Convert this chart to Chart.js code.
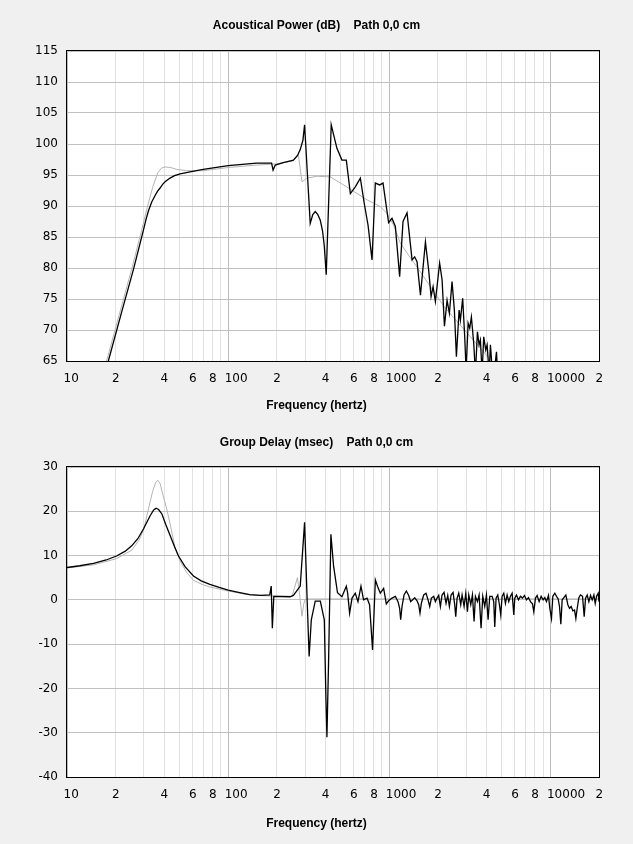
<!DOCTYPE html>
<html>
<head>
<meta charset="utf-8">
<title>Acoustical Power / Group Delay</title>
<script src="https://cdn.jsdelivr.net/npm/chart.js@4.4.1/dist/chart.umd.min.js"></script>
<style>
  body { margin: 0; background: #f0f0f0; }
  canvas { display: block; }
</style>
</head>
<body>
<canvas id="powerChart" width="633" height="422"></canvas>
<canvas id="delayChart" width="633" height="422"></canvas>
<script>
// x axis (hertz), shared by both plots
const freqTicks = [10,20,30,40,50,60,70,80,90,100,200,300,400,500,600,700,800,900,
  1000,2000,3000,4000,5000,6000,7000,8000,9000,10000,20000];
const freqLabels = ['10','2','','4','','6','','8','','100','2','','4','','6','','8','',
  '1000','2','','4','','6','','8','','10000','2'];

const powerTicks = [65,70,75,80,85,90,95,100,105,110,115];
const delayTicks = [-40,-30,-20,-10,0,10,20,30];

// acoustical power, black trace
const powerFreq = [18.05,22,25.8,29.8,30.9,32,33.5,35.2,36.5,37.8,39.2,40.6,43.6,46.5,50.3,58,70,100,150,182,
  186,190,196,220,254,270,280,291,298,323,335,347,360,373,385,395,406,436,451,473,
  508,541,573,615,661,699,738,781,819,871,914,990,1039,1090,1159,1216,1288,1384,1436,1486,
  1560,1675,1754,1816,1869,1931,2052,2125,2198,2282,2359,2450,2533,2607,2710,2761,2852,2936,2995,3083,
  3154,3230,3339,3422,3521,3606,3674,3765,3852,3964,4044,4162,4240,4364,4450,4622,4720,5000];
const powerDb = [65,73.2,79.7,86.1,87.8,89.2,90.6,91.7,92.4,92.9,93.5,93.9,94.5,94.9,95.2,95.5,95.9,96.5,96.9,96.9,
  96.9,95.8,96.6,97.0,97.4,98.2,99.1,100.6,103.1,87.2,88.6,89.1,88.6,87.7,86,83.5,78.9,103.1,101.5,99.3,
  97.4,97.4,92.0,93.1,94.5,90.4,86.9,81.3,93.7,93.4,93.7,87.3,88.0,86.7,78.6,87.5,88.9,81.3,81.8,81.0,
  75.6,84.2,79.7,75.4,77.0,74.6,80.8,78.1,70.6,74.8,72.7,77.8,73.2,65.7,73.2,71.6,75.1,68.9,63.5,71.1,
  70.3,72.1,67.9,63,69.7,67.6,68.4,63,68.9,66.8,67.6,63,67.6,63,62.5,66.5,62,58];

// acoustical power, grey trace
const powerRefFreq = [17.6,25.3,29,31.5,34,36.5,38.5,40.6,44,48,55,70,100,150,200,254,273,287,308,356,
  430,520,727,879,967,1064,1170,1633,2185,3040,4240,5000];
const powerRefDb = [65,80,86,89.8,93.0,95.3,96.1,96.3,96.2,95.9,95.7,95.7,96.2,96.6,96.8,97.3,98.2,93.9,94.5,94.8,
  94.7,93.4,91.0,89.9,88.8,86.9,84.0,78.6,73.8,69.5,65.2,63];

// group delay, black trace
const delayFreq = [10,12,14.6,17.5,20.3,23,25.2,27.5,29.8,32.8,34.5,35.7,37,38.8,41,43.7,46.5,49.2,54,60.9,
  68,77,88,100,116,136,160,181,185,188,192,242,254,280,298,308,318,328,347,373,
  395,404,410,420,434,451,477,508,541,551,567,587,615,639,667,692,727,754,787,819,
  846,879,922,958,990,1039,1090,1132,1159,1176,1199,1234,1275,1319,1357,1396,1437,1486,1521,1550,
  1580,1634,1690,1739,1781,1824,1886,1931,1978,2025,2074,2124,2186,2249,2304,2359,2416,2486,2546,2583,
  2633,2696,2774,2828,2910,2981,3052,3111,3201,3278,3357,3422,3521,3606,3710,3800,3910,4004,4101,4200,
  4343,4446,4510,4597,4708,4822,4914,5009,5130,5254,5382,5511,5644,5781,5920,6005,6150,6328,6512,6701,
  6895,7095,7301,7513,7731,7879,8070,8264,8504,8750,9005,9222,9444,9717,9904,10144,10339,10639,10897,11160,
  11375,11594,11817,12104,12455,12816,13125,13442,13766,14098,14370,14648,14997,15359,15804,16186,16498,16896,17305,17722,
  18150,18588,18947,19314,19780,20000];
const delayMs = [7.3,7.7,8.25,9.0,9.9,11.0,12.2,13.8,16.0,19.0,20.3,20.7,20.4,19.4,17.0,14.5,12.0,9.9,7.5,5.4,
  4.3,3.5,2.8,2.2,1.7,1.2,1.0,1.1,3.1,-6.4,0.8,0.7,1.0,3.1,17.5,1.6,-12.8,-4.5,-0.3,-0.3,
  -4.5,-21.9,-31.0,-13.6,14.8,7.6,1.6,0.7,3.1,1.6,-3.0,0.4,1.5,-0.4,3.1,0.0,0.4,-1.1,-11.3,4.5,
  3.0,1.5,2.6,-0.9,-0.2,0.4,0.8,-0.4,-1.9,-4.5,-1.5,1.1,2.0,1.0,-0.4,0,0.5,-0.2,-1.1,-3.0,
  -0.8,1.1,1.5,0,-1.5,0.4,0.8,-0.4,0.4,1.0,-1.5,1.1,1.7,-0.8,1.0,-1.5,1.1,1.7,-1.1,-3.8,
  0.4,1.5,-1.1,1.1,-1.5,1.5,-2.7,1.1,-1.1,1.1,-4.9,0.8,-0.4,1.1,-6.4,0.8,-1.5,1.1,-4.5,0.8,
  0.8,-0.4,-6.1,0.4,1.1,-1.1,-3.4,0.8,1.5,-0.8,1.1,-0.4,0.8,1.5,-3.4,0.4,1.1,0,0.8,0.4,
  1.0,0,0.5,-0.4,-0.9,-2.7,0.4,1.0,-0.4,0.8,0,0.5,-0.4,1.0,-1.9,-4.2,0.8,1.5,0.8,0.2,
  -1.5,-5.5,0,0.5,1.1,-1.1,-1.9,-1.5,-2.5,-2.3,-4.2,-1.9,0.5,1.1,0.8,-3.8,0.4,1.1,-0.4,1.0,
  0,1.1,-0.8,0.8,1.5,-0.4];

// group delay, grey trace
const delayRefFreq = [10,14.6,20.3,25.2,28,30,32,34,35.5,36.6,37.8,39.5,41.6,44,47,50.3,55,60.9,70,77,
  100,136,174,249,269,276,287,294,301,20000];
const delayRefMs = [7.2,7.9,9.3,11.2,13.5,16,20.5,24.5,26.5,27.0,26.3,23.5,20.5,16.5,11.5,8.8,6.3,4.4,3.4,2.9,
  2.0,1.1,0.9,0.8,5.0,2.0,-3.7,-1.0,0.2,0.2];

Chart.defaults.font.family = 'DejaVu Sans';
Chart.defaults.font.size = 12;
Chart.defaults.color = '#000';

function points(xs, ys) {
  return xs.map((x, i) => ({ x: x, y: ys[i] }));
}

const boldFont = { family: 'Liberation Sans', size: 12, weight: 'bold' };

// white plot area, black frame, and the axis caption centred on the page
const plotFrame = {
  id: 'plotFrame',
  beforeDraw(chart) {
    const a = chart.chartArea, ctx = chart.ctx;
    ctx.save();
    ctx.fillStyle = '#fff';
    ctx.fillRect(a.left, a.top, a.right - a.left, a.bottom - a.top);
    ctx.restore();
  },
  afterDraw(chart, args, opts) {
    const a = chart.chartArea, ctx = chart.ctx;
    ctx.save();
    ctx.strokeStyle = '#000';
    ctx.lineWidth = 1;
    ctx.strokeRect(Math.round(a.left) - 0.5, Math.round(a.top) - 0.5,
      Math.round(a.right - a.left) + 1, Math.round(a.bottom - a.top) + 1);
    ctx.fillStyle = '#000';
    ctx.font = 'bold 12px "Liberation Sans"';
    ctx.textAlign = 'center';
    ctx.textBaseline = 'middle';
    ctx.fillText('Frequency (hertz)', chart.width / 2, opts.captionY);
    ctx.restore();
  }
};

function makeChart(id, opts) {
  return new Chart(document.getElementById(id), {
    type: 'line',
    data: {
      datasets: [
        { data: points(opts.xs, opts.ys), borderColor: '#000', borderWidth: 1.3 },
        { data: points(opts.refXs, opts.refYs), borderColor: '#b4b4b4', borderWidth: 1 }
      ]
    },
    options: {
      responsive: false,
      animation: false,
      events: [],
      elements: { point: { radius: 0 }, line: { tension: 0 } },
      layout: { padding: 0 },
      plugins: {
        legend: { display: false },
        tooltip: { enabled: false },
        title: {
          display: true,
          text: opts.title,
          font: boldFont,
          color: '#000',
          padding: opts.titlePad
        },
        plotFrame: { captionY: opts.captionY }
      },
      scales: {
        x: {
          type: 'logarithmic',
          min: 10,
          max: 20000,
          afterBuildTicks: s => { s.ticks = freqTicks.map(v => ({ value: v })); },
          afterFit: s => { s.height = opts.xHeight; s.paddingRight = 34; s.paddingLeft = 0; },
          grid: {
            drawTicks: false,
            color: c => [10, 100, 1000, 10000].includes(freqTicks[c.index]) ? '#bcbcbc' : '#e2e2e2'
          },
          border: { display: false },
          ticks: {
            autoSkip: false,
            maxRotation: 0,
            minRotation: 0,
            align: 'start',
            labelOffset: -3.5,
            padding: 11,
            callback: (v, i) => freqLabels[i]
          }
        },
        y: {
          min: opts.yTicks[0],
          max: opts.yTicks[opts.yTicks.length - 1],
          afterBuildTicks: s => { s.ticks = opts.yTicks.map(v => ({ value: v })); },
          afterFit: s => { s.width = 67; },
          grid: { drawTicks: false, color: '#c0c0c0' },
          border: { display: false },
          ticks: { padding: 9 }
        }
      }
    },
    plugins: [plotFrame]
  });
}

makeChart('powerChart', {
  title: 'Acoustical Power (dB)    Path 0,0 cm',
  xs: powerFreq, ys: powerDb,
  refXs: powerRefFreq, refYs: powerRefDb,
  yTicks: powerTicks,
  titlePad: { top: 18.3, bottom: 18.3 },
  xHeight: 61,
  captionY: 406
});

makeChart('delayChart', {
  title: 'Group Delay (msec)    Path 0,0 cm',
  xs: delayFreq, ys: delayMs,
  refXs: delayRefFreq, refYs: delayRefMs,
  yTicks: delayTicks,
  titlePad: { top: 13.3, bottom: 17.3 },
  xHeight: 67,
  captionY: 401.5
});
</script>
</body>
</html>
